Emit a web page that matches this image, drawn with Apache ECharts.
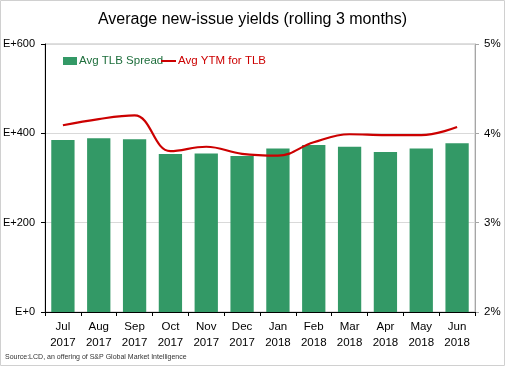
<!DOCTYPE html>
<html><head><meta charset="utf-8">
<script src="https://cdn.jsdelivr.net/npm/echarts@6/dist/echarts.min.js"></script>
<style>html,body{margin:0;padding:0;background:#fff}#c{width:505px;height:366px}</style>
</head><body><div id="c"></div>
<script>
var months = ['Jul\n2017','Aug\n2017','Sep\n2017','Oct\n2017','Nov\n2017','Dec\n2017','Jan\n2018','Feb\n2018','Mar\n2018','Apr\n2018','May\n2018','Jun\n2018'];
var spread = [385, 389, 387, 354, 355, 349, 366, 374, 370, 358, 366, 378];
var ytm = [4.09, 4.16, 4.20, 3.80, 3.85, 3.77, 3.75, 3.90, 3.99, 3.98, 3.98, 4.07];
var leftTicks = [0, 200, 400, 600];
var rightTicks = [2, 3, 4, 5];

var chart = echarts.init(document.getElementById('c'), null, {renderer:'canvas'});
var font = 'Liberation Sans, Arial, sans-serif';
chart.setOption({
  animation: false,
  textStyle: {fontFamily: font},
  title: {text: 'Average new-issue yields (rolling 3 months)', left: 'center', top: 7,
    textStyle: {fontFamily: font, fontSize: 16, fontWeight: 'normal', color: '#000'}},
  legend: [
    {left: 58, top: 50, itemGap: 4, itemWidth: 14, itemHeight: 8,
      data: [{name: 'Avg TLB Spread', icon: 'rect'}],
      textStyle: {fontFamily: font, fontSize: 11.5, color: '#1e6e3c', padding: [0,0,0,-3]}},
    {left: 156, top: 50, itemGap: 4, itemWidth: 15, itemHeight: 2,
      data: [{name: 'Avg YTM for TLB', icon: 'rect'}],
      textStyle: {fontFamily: font, fontSize: 11.5, color: '#cc0000', padding: [0,0,0,-3]}}
  ],
  grid: {left: 45, right: 30, top: 44, bottom: 54, show: true, borderColor: '#bfbfbf', borderWidth: 1,
    containLabel: false, outerBoundsMode: 'none'},
  xAxis: {type: 'category', data: months,
    axisLine: {lineStyle: {color: '#000', width: 1}},
    axisTick: {show: true, length: 4, lineStyle: {color: '#000'}},
    axisLabel: {fontSize: 11.5, color: '#000', lineHeight: 16, margin: 7}},
  yAxis: [
    {type: 'value', min: 0, max: 600, interval: 200,
      axisLine: {show: true, lineStyle: {color: '#000'}},
      axisTick: {show: true, length: 4, lineStyle: {color: '#000'}},
      axisLabel: {fontSize: 11, color: '#000', margin: 10, formatter: function(v){return 'E+' + v;}},
      splitLine: {lineStyle: {color: '#d9d9d9'}}},
    {type: 'value', min: 2, max: 5, interval: 1, position: 'right',
      axisLine: {show: true, lineStyle: {color: '#a6a6a6'}},
      axisTick: {show: true, length: 4, lineStyle: {color: '#a6a6a6'}},
      axisLabel: {fontSize: 11.5, color: '#000', margin: 9, formatter: function(v){return v + '%';}},
      splitLine: {show: false}}
  ],
  series: [
    {name: 'Avg TLB Spread', type: 'bar', data: spread, yAxisIndex: 0, barWidth: '65%',
      itemStyle: {color: '#339966'}},
    {name: 'Avg YTM for TLB', type: 'line', data: ytm, yAxisIndex: 1, smooth: 0.4,
      showSymbol: false, symbol: 'none', lineStyle: {color: '#cc0000', width: 2.2}, itemStyle: {color: '#cc0000'}}
  ],
  graphic: [
    {type: 'text', left: 5, top: 354, style: {text: 'Source:LCD, an offering of S&P Global Market Intelligence', font: '7px ' + font, fill: '#333'}},
    {type: 'rect', shape: {x: 0.5, y: 0.5, width: 504, height: 365}, style: {fill: 'none', stroke: '#d0d0d0', lineWidth: 1}, silent: true}
  ]
});
</script></body></html>
